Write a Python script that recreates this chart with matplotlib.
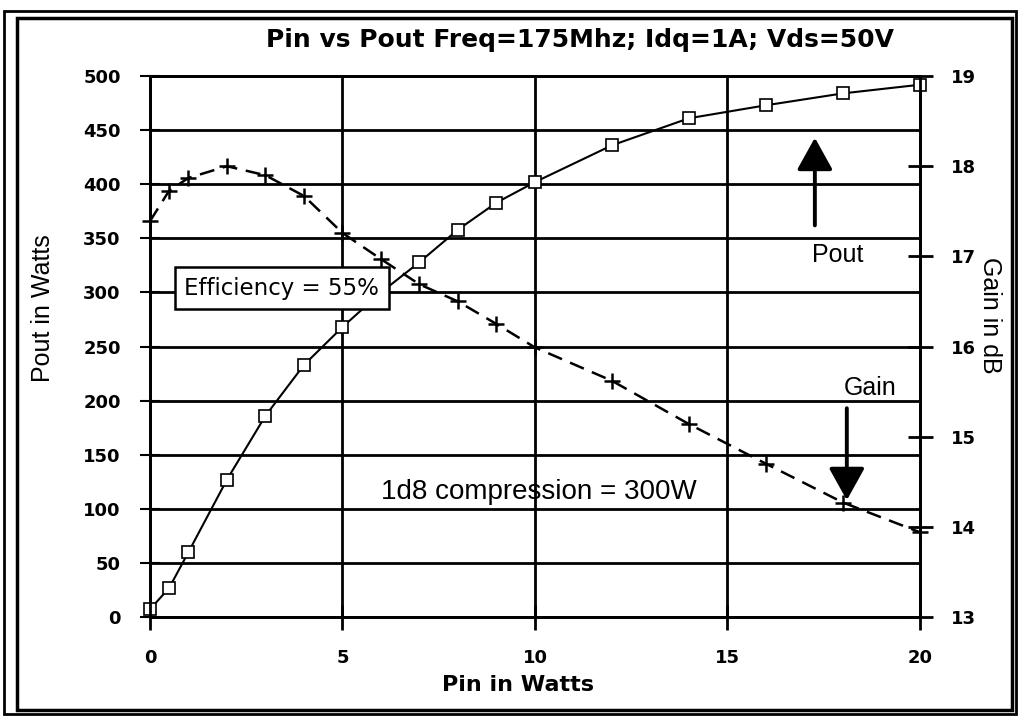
import matplotlib
matplotlib.use("Agg")
import matplotlib.pyplot as plt
from matplotlib.patches import Rectangle

pin_w = [0, 0.5, 1, 2, 3, 4, 5, 6, 7, 8, 9, 10, 12, 14, 16, 18, 20]
pout_w = [7, 27, 60, 127, 186, 233, 268, 300, 328, 358, 383, 402, 436, 461, 473, 484, 492]
gain_db = [17.39, 17.73, 17.87, 18.0, 17.9, 17.67, 17.26, 16.97, 16.69, 16.5,
           16.25, 15.99, 15.62, 15.14, 14.70, 14.27, 13.94]

x_ticks = [0, 5, 10, 15, 20]
pout_ticks = list(range(0, 501, 50))
gain_ticks = [13, 14, 15, 16, 17, 18, 19]

tick_font = dict(family='DejaVu Sans', weight='bold', size=13)
label_font = dict(family='Liberation Sans', size=18)

fig = plt.figure(figsize=(10.18, 7.21), dpi=100)
ax = fig.add_axes([0.1473, 0.1442, 0.7564, 0.7503])
ax.set_xlim(0, 20)
ax.set_ylim(0, 500)
ax.set_xticks(x_ticks)
ax.set_yticks(pout_ticks)
ax.grid(True, color='black', linewidth=2)
ax.set_axisbelow(True)
for s in ax.spines.values():
    s.set_linewidth(2)
ax.tick_params(axis='x', direction='inout', length=18, width=2, pad=14)
ax.tick_params(axis='y', direction='inout', length=14, width=1.5, pad=14)
for lab in ax.get_xticklabels() + ax.get_yticklabels():
    lab.set(**tick_font)

# Pout curve: solid line, open squares
ax.plot(pin_w, pout_w, color='black', linewidth=1.5, marker='s', markersize=9,
        markerfacecolor='white', markeredgecolor='black', markeredgewidth=1.2,
        clip_on=False, zorder=3)

# Gain curve on the right axis: dashed line with plus markers
ax2 = ax.twinx()
ax2.set_ylim(13, 19)
ax2.set_yticks(gain_ticks)
ax2.tick_params(axis='y', direction='inout', length=18, width=2, pad=13)
for lab in ax2.get_yticklabels():
    lab.set(**tick_font)
for s in ax2.spines.values():
    s.set_linewidth(2)
ax2.plot(pin_w, gain_db, color='black', linewidth=1.8, linestyle=(0, (6, 3.5)),
         marker='+', markersize=12, markeredgewidth=1.8, clip_on=False, zorder=3)

# Annotations (drawn on the top axes, placed in Pout coordinates)
ax2.text(3.42, 304, 'Efficiency = 55%', transform=ax.transData, ha='center', va='center',
         family='DejaVu Sans', size=16.5, zorder=10,
         bbox=dict(boxstyle='square,pad=0.42', facecolor='white', edgecolor='black', linewidth=1.8))
ax2.text(10.1, 116, '1d8 compression = 300W', transform=ax.transData, ha='center', va='center',
         zorder=10, family='Liberation Sans', size=20)
ax2.text(17.85, 335, 'Pout', transform=ax.transData, ha='center', va='center', zorder=10, **label_font)
ax2.text(18.7, 212, 'Gain', transform=ax.transData, ha='center', va='center', zorder=10, **label_font)
arrow = dict(arrowstyle='-|>,head_length=0.9,head_width=0.5', color='black', lw=2.8,
             mutation_scale=22, shrinkA=0, shrinkB=0)
ax2.annotate('', xy=(17.27, 443), xytext=(17.27, 362), xycoords=ax.transData,
             textcoords=ax.transData, arrowprops=arrow, zorder=10)
ax2.annotate('', xy=(18.1, 108), xytext=(18.1, 193), xycoords=ax.transData,
             textcoords=ax.transData, arrowprops=arrow, zorder=10)

# Titles and axis labels
fig.text(0.570, 0.9445, 'Pin vs Pout Freq=175Mhz; Idq=1A; Vds=50V', ha='center', va='center',
         family='DejaVu Sans', weight='bold', size=18)
fig.text(0.509, 0.050, 'Pin in Watts', ha='center', va='center',
         family='DejaVu Sans', weight='bold', size=16)
fig.text(0.0422, 0.573, 'Pout in Watts', ha='center', va='center', rotation=90, **label_font)
fig.text(0.9725, 0.563, 'Gain in dB', ha='center', va='center', rotation=270, **label_font)

# Double frame around the chart
fig.patches.append(Rectangle((4 / 1018, 1 - 714 / 721), 1012 / 1018, 703 / 721,
                             transform=fig.transFigure, fill=False, edgecolor='black', linewidth=2))
fig.patches.append(Rectangle((17 / 1018, 1 - 710 / 721), 995 / 1018, 692 / 721,
                             transform=fig.transFigure, fill=False, edgecolor='black', linewidth=2.5))

fig.savefig('out.png', dpi=100, facecolor='white')
